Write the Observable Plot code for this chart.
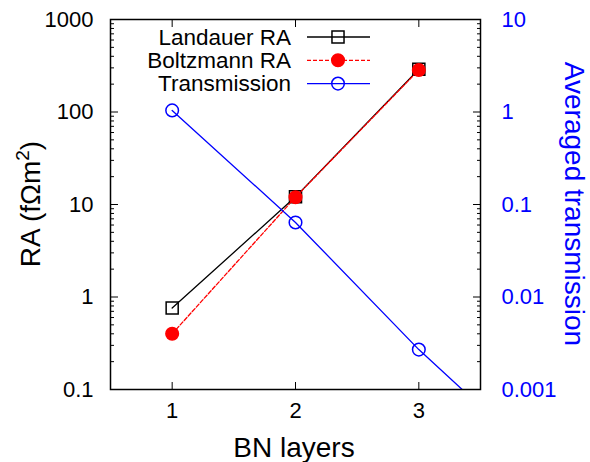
<!DOCTYPE html>
<html>
<head>
<meta charset="utf-8">
<script src="https://cdn.jsdelivr.net/npm/d3@7"></script>
<script src="https://cdn.jsdelivr.net/npm/@observablehq/plot@0.6"></script>
<style>
  html, body { margin: 0; padding: 0; background: white; }
  #chart { position: relative; width: 590px; height: 462px; }
</style>
</head>
<body>
<div id="chart"></div>
<script>
// ---- data ----
const layers = [1, 2, 3];
const landauerRA = [0.76, 12.1, 290];
const boltzmannRA = [0.40, 12.0, 285];
const transLayers = [1, 2, 3, 4];
const transmission = [1.04, 0.064, 0.0027, 0.00016];
const xTicks = [1, 2, 3];
const raTicks = [0.1, 1, 10, 100, 1000];
const raTickLabels = ["0.1", "1", "10", "100", "1000"];
const transTicks = [0.001, 0.01, 0.1, 1, 10];
const transTickLabels = ["0.001", "0.01", "0.1", "1", "10"];
const seriesNames = ["Landauer RA", "Boltzmann RA", "Transmission"];

// right axis maps onto the left (RA) log scale
const factor = raTicks[0] / transTicks[0];

const landauer = layers.map((x, i) => ({x, y: landauerRA[i]}));
const boltzmann = layers.map((x, i) => ({x, y: boltzmannRA[i]}));
const trans = transLayers.map((x, i) => ({x, y: transmission[i] * factor}));

const minor = [];
for (let i = 0; i < raTicks.length - 1; i++)
  for (let k = 2; k <= 9; k++) minor.push(raTicks[i] * k);

function nearestLabel(values, labels, v) {
  let best = 0, bd = Infinity;
  values.forEach((t, i) => { const d = Math.abs(Math.log(t / v)); if (d < bd) { bd = d; best = i; } });
  return labels[best];
}

const font = "'Liberation Sans', Arial, Helvetica, sans-serif";

const chart = Plot.plot({
  width: 590,
  height: 462,
  marginLeft: 110,
  marginRight: 110,
  marginTop: 19,
  marginBottom: 73,
  style: {fontFamily: font, fontSize: "22px", background: "white", color: "black", overflow: "visible"},
  x: {domain: [0.5, 3.5], label: null},
  y: {type: "log", domain: [raTicks[0], raTicks[raTicks.length - 1]], label: null},
  marks: [
    // bottom axis labels
    Plot.axisX({anchor: "bottom", ticks: xTicks, tickSize: 0, tickPadding: 13, tickFormat: d => String(d), label: null, fontSize: 22}),
    Plot.axisX({anchor: "bottom", ticks: xTicks, tickSize: -7, text: null, label: null}),
    Plot.axisX({anchor: "top", ticks: xTicks, tickSize: -7, text: null, label: null}),
    // left axis
    Plot.axisY({anchor: "left", ticks: raTicks, tickSize: 0, tickPadding: 17,
      tickFormat: d => nearestLabel(raTicks, raTickLabels, d), label: null, fontSize: 22}),
    Plot.axisY({anchor: "left", ticks: raTicks, tickSize: -8, text: null, label: null}),
    Plot.axisY({anchor: "left", ticks: minor, tickSize: -4, text: null, label: null}),
    // right axis (transmission)
    Plot.axisY({anchor: "right", ticks: transTicks.map(t => t * factor), tickSize: 0, tickPadding: 21,
      tickFormat: d => nearestLabel(transTicks, transTickLabels, d / factor), label: null, fontSize: 22, fill: "#0000ff"}),
    Plot.axisY({anchor: "right", ticks: transTicks.map(t => t * factor), tickSize: -8, text: null, label: null}),
    Plot.axisY({anchor: "right", ticks: minor, tickSize: -4, text: null, label: null}),
    // series
    Plot.line(landauer, {x: "x", y: "y", stroke: "black", strokeWidth: 1.3, clip: true}),
    Plot.dot(landauer, {x: "x", y: "y", symbol: "square", r: 6.8, stroke: "black", strokeWidth: 1.5, fill: "none", clip: true}),
    Plot.line(boltzmann, {x: "x", y: "y", stroke: "#ff0000", strokeWidth: 1.3, strokeDasharray: "4,2", clip: true}),
    Plot.dot(boltzmann, {x: "x", y: "y", symbol: "circle", r: 6.3, fill: "#ff0000", stroke: "#ff0000", clip: true}),
    Plot.line(trans, {x: "x", y: "y", stroke: "#0000ff", strokeWidth: 1.3, clip: true}),
    Plot.dot(trans, {x: "x", y: "y", symbol: "circle", r: 6.3, stroke: "#0000ff", strokeWidth: 1.5, fill: "none", clip: true}),
    Plot.frame({stroke: "black", strokeWidth: 1.5})
  ]
});

document.getElementById("chart").appendChild(chart);

// ---- axis titles & legend ----
const svg = d3.select(chart);
const g = svg.append("g").attr("font-family", font);

const left = g.append("text")
  .attr("transform", "translate(40,204) rotate(-90)")
  .attr("text-anchor", "middle")
  .attr("font-size", 28)
  .attr("fill", "black");
left.append("tspan").text("RA (fΩm");
left.append("tspan").attr("dy", -11).attr("font-size", 19).text("2");
left.append("tspan").attr("dy", 11).text(")");

g.append("text")
  .attr("transform", "translate(565,204) rotate(90)")
  .attr("text-anchor", "middle")
  .attr("font-size", 28)
  .attr("fill", "#0000ff")
  .text("Averaged transmission");

g.append("text")
  .attr("x", 294).attr("y", 457)
  .attr("text-anchor", "middle")
  .attr("font-size", 28)
  .attr("fill", "black")
  .text("BN layers");

const legendStyles = [
  {stroke: "black", dash: null, symbol: d3.symbolSquare, fill: "none"},
  {stroke: "#ff0000", dash: "4,2", symbol: d3.symbolCircle, fill: "#ff0000"},
  {stroke: "#0000ff", dash: null, symbol: d3.symbolCircle, fill: "none"}
];
seriesNames.forEach((name, i) => {
  const y = 37 + i * 23.3;
  const s = legendStyles[i];
  g.append("text").attr("x", 291).attr("y", y).attr("dy", "0.35em")
    .attr("text-anchor", "end").attr("font-size", 22.5).attr("fill", "black").text(name);
  g.append("line").attr("x1", 307).attr("x2", 370).attr("y1", y).attr("y2", y)
    .attr("stroke", s.stroke).attr("stroke-width", 1.3)
    .attr("stroke-dasharray", s.dash);
  g.append("path").attr("transform", `translate(338,${y})`)
    .attr("d", d3.symbol(s.symbol, Math.PI * (i === 0 ? 6.8 : 6.3) ** 2)())
    .attr("stroke", s.stroke).attr("stroke-width", 1.5).attr("fill", s.fill);
});
</script>
</body>
</html>
